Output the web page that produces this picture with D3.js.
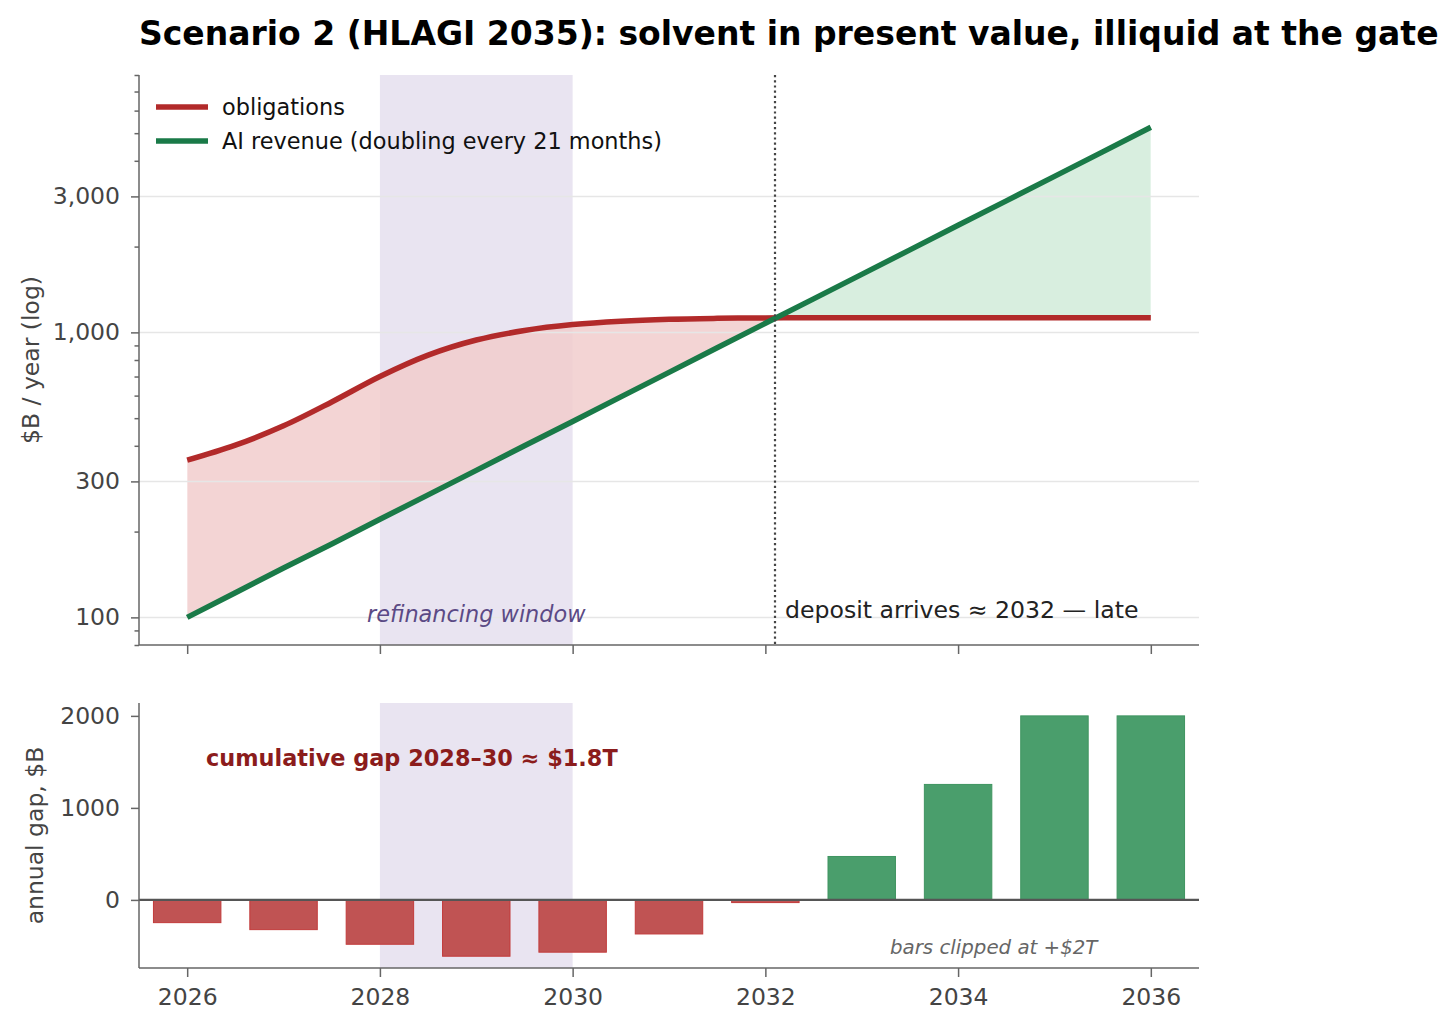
<!DOCTYPE html>
<html>
<head>
<meta charset="utf-8">
<script src="https://cdn.jsdelivr.net/npm/d3@7"></script>
<style>
  body { margin: 0; background: #fff; }
  svg { display: block; font-family: "DejaVu Sans", sans-serif; }
  .axis path, .axis line { stroke: #666; stroke-width: 1.5; }
  .axis text { fill: #444; font-size: 23.5px; font-family: "DejaVu Sans", sans-serif; }
</style>
</head>
<body>
<div id="chart"></div>
<script>
// line data, half-year steps
const lineYears = [2026, 2026.5, 2027, 2027.5, 2028, 2028.5, 2029, 2029.5, 2030, 2030.5, 2031,
  2031.5, 2032, 2032.5, 2033, 2033.5, 2034, 2034.5, 2035, 2035.5, 2036];
const obligations = [356, 402, 470, 570, 700, 832, 940, 1015, 1065, 1095, 1112,
  1120, 1124, 1126, 1126, 1126, 1126, 1126, 1126, 1126, 1126];
const aiRevenue = [100, 122, 149, 181, 221, 269, 328, 400, 487, 594, 724,
  883, 1076, 1311, 1598, 1948, 2375, 2894, 3528, 4300, 5242];

// bar data
const barYears = [2026, 2027, 2028, 2029, 2030, 2031, 2032, 2033, 2034, 2035, 2036];
const annualGap = [-247, -323, -482, -612, -568, -370, -29, 472, 1255, 2000, 2000];

const xTicks = [2026, 2028, 2030, 2032, 2034, 2036];
const logMajor = [100, 300, 1000, 3000];
const logMinor = [80, 90, 200, 400, 500, 600, 700, 800, 900, 2000, 4000, 5000, 6000, 7000, 8000];
const gapTicks = [0, 1000, 2000];
const refiWindow = [2028, 2030];
const depositYear = 2032.1;

const width = 1456;
const height = 1029;
const left = 139, right = 1199;
const top1 = 75, bot1 = 645;
const top2 = 703, bot2 = 968;

const svg = d3.select("#chart").append("svg")
  .attr("width", width).attr("height", height);

svg.append("rect").attr("width", width).attr("height", height).attr("fill", "#fff");

const x = d3.scaleLinear().domain([2025.5, 2036.5]).range([left, right]);
const yTop = d3.scaleLog().domain([80, 8000]).range([bot1, top1]);
const yBot = d3.scaleLinear().domain([-740, 2140]).range([bot2, top2]);

const rows = lineYears.map((t, i) => ({ t, obl: obligations[i], rev: aiRevenue[i] }));

// where revenue catches obligations
let crossYear = lineYears[lineYears.length - 1];
for (let i = 1; i < rows.length; i++) {
  const a = Math.log(rows[i - 1].obl / rows[i - 1].rev);
  const b = Math.log(rows[i].obl / rows[i].rev);
  if (a > 0 && b <= 0) {
    crossYear = rows[i - 1].t + (rows[i].t - rows[i - 1].t) * a / (a - b);
    break;
  }
}

// title
svg.append("text")
  .attr("x", left).attr("y", 45)
  .attr("font-size", "33px").attr("font-weight", "bold").attr("fill", "#000")
  .text("Scenario 2 (HLAGI 2035): solvent in present value, illiquid at the gate");

// ---------- top panel ----------
const g1 = svg.append("g");

g1.append("rect")
  .attr("x", x(refiWindow[0])).attr("y", top1)
  .attr("width", x(refiWindow[1]) - x(refiWindow[0])).attr("height", bot1 - top1)
  .attr("fill", "#e9e4f1");

const defs = svg.append("defs");
defs.append("clipPath").attr("id", "clipRed").append("rect")
  .attr("x", x(lineYears[0])).attr("y", top1)
  .attr("width", x(crossYear) - x(lineYears[0])).attr("height", bot1 - top1);
defs.append("clipPath").attr("id", "clipGreen").append("rect")
  .attr("x", x(crossYear)).attr("y", top1)
  .attr("width", x(lineYears[lineYears.length - 1]) - x(crossYear)).attr("height", bot1 - top1);

const between = d3.area()
  .x(d => x(d.t))
  .y0(d => yTop(d.rev))
  .y1(d => yTop(d.obl))
  .curve(d3.curveMonotoneX);

g1.append("path").datum(rows).attr("d", between)
  .attr("fill", "#f1cdcd").attr("fill-opacity", 0.86).attr("clip-path", "url(#clipRed)");
g1.append("path").datum(rows).attr("d", between)
  .attr("fill", "#d4ecdc").attr("fill-opacity", 0.9).attr("clip-path", "url(#clipGreen)");

g1.selectAll(".grid").data(logMajor).join("line")
  .attr("class", "grid")
  .attr("x1", left).attr("x2", right)
  .attr("y1", d => yTop(d)).attr("y2", d => yTop(d))
  .attr("stroke", "#e6e6e6").attr("stroke-width", 1.5);

const lineObl = d3.line().x(d => x(d.t)).y(d => yTop(d.obl)).curve(d3.curveMonotoneX);
const lineRev = d3.line().x(d => x(d.t)).y(d => yTop(d.rev));

g1.append("path").datum(rows).attr("d", lineObl)
  .attr("fill", "none").attr("stroke", "#b22a2a").attr("stroke-width", 5.5);
g1.append("path").datum(rows).attr("d", lineRev)
  .attr("fill", "none").attr("stroke", "#1a7a48").attr("stroke-width", 5.5);

g1.append("line")
  .attr("x1", x(depositYear)).attr("x2", x(depositYear))
  .attr("y1", top1).attr("y2", bot1)
  .attr("stroke", "#444").attr("stroke-width", 2.2).attr("stroke-dasharray", "2.2,3");

g1.append("text")
  .attr("x", x((refiWindow[0] + refiWindow[1]) / 2)).attr("y", 622)
  .attr("text-anchor", "middle").attr("font-size", "22.4px").attr("font-style", "italic")
  .attr("fill", "#5b4a85")
  .text("refinancing window");

g1.append("text")
  .attr("x", x(depositYear) + 10).attr("y", 618)
  .attr("font-size", "23.6px").attr("fill", "#222")
  .text("deposit arrives \u2248 2032 \u2014 late");

// legend
const legendItems = [
  { label: "obligations", color: "#b22a2a" },
  { label: "AI revenue (doubling every 21 months)", color: "#1a7a48" }
];
const legend = g1.selectAll(".legend").data(legendItems).join("g")
  .attr("class", "legend")
  .attr("transform", (d, i) => `translate(156,${107 + i * 34})`);
legend.append("line").attr("x1", 0).attr("x2", 52)
  .attr("stroke", d => d.color).attr("stroke-width", 5.5);
legend.append("text").attr("x", 66).attr("y", 8)
  .attr("font-size", "22.4px").attr("fill", "#111")
  .text(d => d.label);

// axes (top)
const yMajorAxis = g1.append("g").attr("class", "axis")
  .attr("transform", `translate(${left},0)`)
  .call(d3.axisLeft(yTop).tickValues(logMajor).tickFormat(d3.format(",")).tickSize(8).tickPadding(11));
g1.append("g").attr("class", "axis")
  .attr("transform", `translate(${left},0)`)
  .call(d3.axisLeft(yTop).tickValues(logMinor).tickFormat("").tickSize(4.5).tickSizeOuter(0))
  .select(".domain").remove();
yMajorAxis.select(".domain").attr("d", `M0,${bot1}V${top1}`);

const xTopAxis = g1.append("g").attr("class", "axis")
  .attr("transform", `translate(0,${bot1})`)
  .call(d3.axisBottom(x).tickValues(xTicks).tickFormat("").tickSize(9));
xTopAxis.select(".domain").attr("d", `M${left},0H${right}`);

svg.append("text")
  .attr("transform", `translate(39,${(top1 + bot1) / 2}) rotate(-90)`)
  .attr("text-anchor", "middle").attr("font-size", "23.5px").attr("fill", "#444")
  .text("$B / year (log)");

// ---------- bottom panel ----------
const g2 = svg.append("g");

g2.append("rect")
  .attr("x", x(refiWindow[0])).attr("y", top2)
  .attr("width", x(refiWindow[1]) - x(refiWindow[0])).attr("height", bot2 - top2)
  .attr("fill", "#e9e4f1");

const barW = x(2026.35) - x(2025.65);
g2.selectAll(".bar").data(barYears.map((t, i) => ({ t, v: annualGap[i] }))).join("rect")
  .attr("class", "bar")
  .attr("x", d => x(d.t) - barW / 2)
  .attr("width", barW)
  .attr("y", d => yBot(Math.max(0, d.v)))
  .attr("height", d => Math.abs(yBot(d.v) - yBot(0)))
  .attr("fill", d => d.v < 0 ? "#c05353" : "#4a9e6c")
  .attr("stroke", d => d.v < 0 ? "#c23b3b" : "#3f9460")
  .attr("stroke-width", 1);

g2.append("line")
  .attr("x1", left).attr("x2", right)
  .attr("y1", yBot(0)).attr("y2", yBot(0))
  .attr("stroke", "#555").attr("stroke-width", 2.2);

g2.append("text")
  .attr("x", 206).attr("y", 766)
  .attr("font-size", "22.4px").attr("font-weight", "bold").attr("fill", "#8b1c1c")
  .text("cumulative gap 2028\u201330 \u2248 $1.8T");

g2.append("text")
  .attr("x", 890).attr("y", 954)
  .attr("font-size", "19.8px").attr("font-style", "italic").attr("fill", "#666")
  .text("bars clipped at +$2T");

const yBotAxis = g2.append("g").attr("class", "axis")
  .attr("transform", `translate(${left},0)`)
  .call(d3.axisLeft(yBot).tickValues(gapTicks).tickFormat(d3.format("d")).tickSize(8).tickPadding(11));
yBotAxis.select(".domain").attr("d", `M0,${bot2}V${top2}`);

const xBotAxis = g2.append("g").attr("class", "axis")
  .attr("transform", `translate(0,${bot2})`)
  .call(d3.axisBottom(x).tickValues(xTicks).tickFormat(d3.format("d")).tickSize(9).tickPadding(11));
xBotAxis.select(".domain").attr("d", `M${left},0H${right}`);

svg.append("text")
  .attr("transform", `translate(43,${(top2 + bot2) / 2}) rotate(-90)`)
  .attr("text-anchor", "middle").attr("font-size", "23.5px").attr("fill", "#444")
  .text("annual gap, $B");
</script>
</body>
</html>
